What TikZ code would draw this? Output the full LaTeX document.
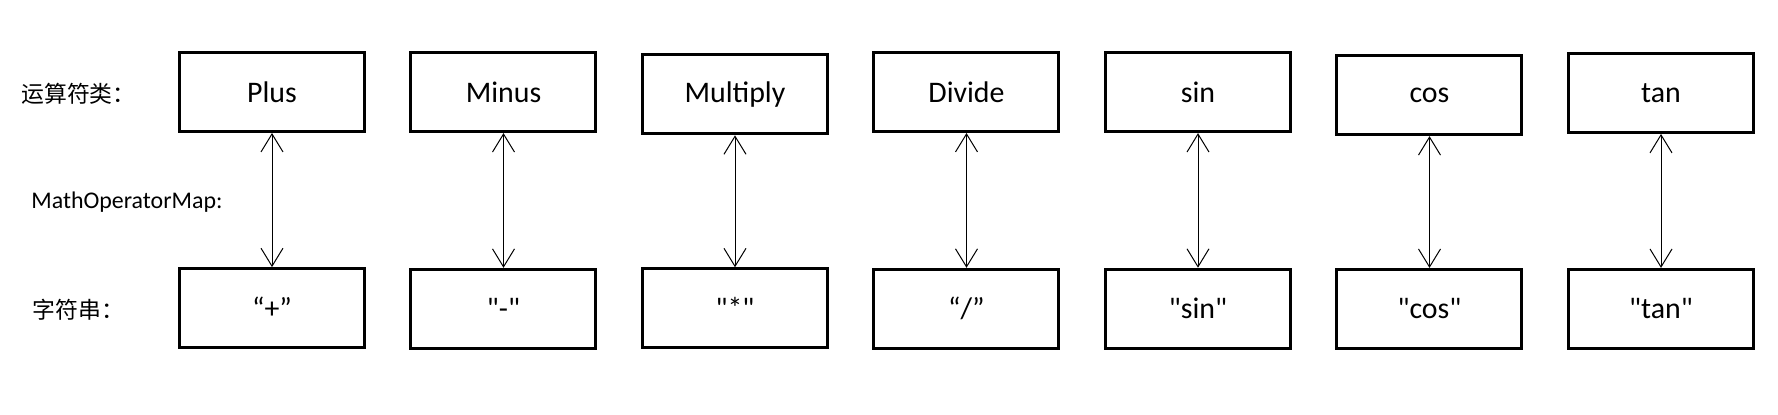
\documentclass[tikz,border=0pt]{standalone}
\usepackage{fontspec}
\setmainfont{Carlito}[Ligatures=TeXOff]
\newfontfamily\cjk{Noto Sans CJK SC}
\usepackage{tikz}
\usetikzlibrary{matrix,arrows.meta}

\tikzset{
    opbox/.style={draw, line width=0.06cm, minimum width=3.70cm, minimum height=1.58cm, inner sep=0pt, font=\fontsize{17}{20}\selectfont},
    rowlabel/.style={draw=none, minimum width=0pt, minimum height=0pt, inner sep=0.3333em, font=\fontsize{13}{16}\selectfont},
    maparrow/.style={<->, line width=0.02cm},
    >={Straight Barb[length=3.6mm,width=4.4mm]}
}

\begin{document}
\begin{tikzpicture}
    \useasboundingbox (0,0) rectangle (35.56,-8.28);
    \matrix[matrix of nodes, nodes={opbox}, column 1/.style={nodes={rowlabel}}, column sep=0.87cm, row sep=2.62cm, matrix anchor=m-1-2.north west] (m) at (3.56,-1.02) {
        {\cjk 运算符类：} &[-0.14cm] Plus & Minus & Multiply & Divide & sin & cos & tan \\
        {\cjk 字符串：} & “+” & "-" & "*" & “/” & "sin" & "cos" & "tan" \\
    };
    \node[rowlabel, inner sep=0pt, anchor=west, font=\fontsize{13.6}{16}\selectfont] (maplbl) at (0.62,-4.04) {MathOperatorMap:};
    \foreach \c in {2,...,8}
        \draw[maparrow] (m-1-\c.south) -- (m-2-\c.north);
\end{tikzpicture}
\end{document}
